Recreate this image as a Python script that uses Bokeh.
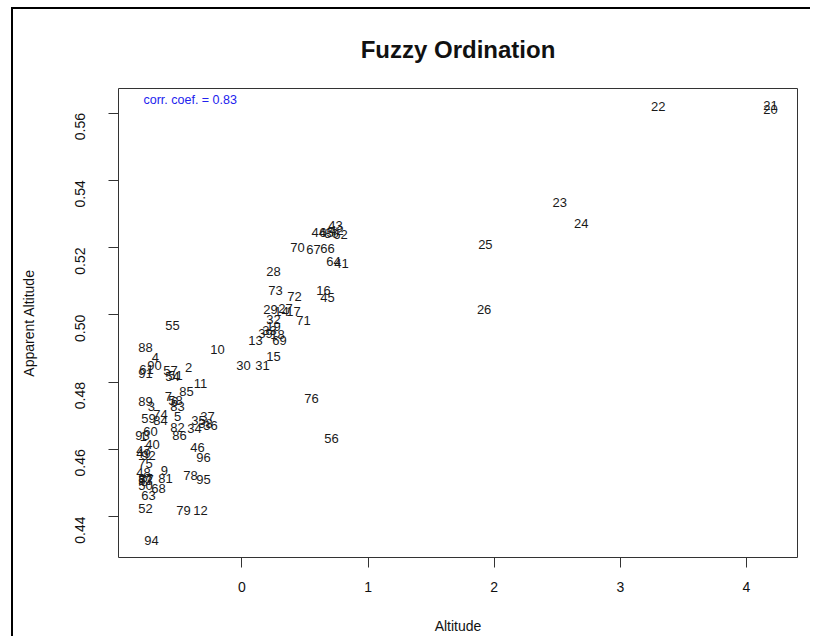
import math
from bokeh.plotting import figure
from bokeh.models import Range1d, FixedTicker, Label, ColumnDataSource
from bokeh.core.properties import value
from bokeh.embed import file_html
from bokeh.resources import INLINE

# ---- data ----
labels = ["20", "21", "22", "23", "24", "25", "26",
          "43", "44", "65", "80", "42", "62", "70", "67", "66", "64", "41",
          "28", "73", "72", "16", "45", "29", "27", "14", "17", "71", "32",
          "19", "39", "33", "18", "13", "69", "15", "30", "31",
          "55", "10", "88", "4", "90", "61", "91", "57", "54", "51", "2",
          "11", "85", "89", "3", "7", "58", "6", "83", "74", "59", "84", "5",
          "82", "86", "37", "35", "38", "36", "34", "60", "93", "1", "40",
          "46", "47", "49", "92", "96", "75", "48", "9", "81", "78", "95",
          "87", "53", "8", "77", "50", "68", "63", "52", "79", "12", "94",
          "76", "56"]
altitude = [4.19, 4.19, 3.30, 2.52, 2.69, 1.93, 1.92,
            0.741, 0.609, 0.670, 0.710, 0.749, 0.781, 0.440, 0.567, 0.678, 0.726, 0.789,
            0.250, 0.266, 0.416, 0.646, 0.678, 0.226, 0.345, 0.313, 0.408, 0.488, 0.250,
            0.250, 0.186, 0.218, 0.282, 0.107, 0.297, 0.250, 0.012, 0.163,
            -0.551, -0.194, -0.765, -0.686, -0.694, -0.757, -0.765, -0.567, -0.551, -0.527, -0.424,
            -0.329, -0.440, -0.765, -0.718, -0.583, -0.527, -0.535, -0.511, -0.646, -0.741, -0.646, -0.511,
            -0.511, -0.495, -0.274, -0.345, -0.289, -0.250, -0.377, -0.726, -0.789, -0.781, -0.710,
            -0.353, -0.781, -0.781, -0.741, -0.305, -0.765, -0.781, -0.615, -0.607, -0.408, -0.305,
            -0.765, -0.765, -0.773, -0.757, -0.765, -0.662, -0.741, -0.765, -0.464, -0.329, -0.718,
            0.551, 0.710]
apparent_altitude = [0.5611, 0.5623, 0.5620, 0.5333, 0.5271, 0.5209, 0.5017,
                     0.5265, 0.5244, 0.5244, 0.5241, 0.5250, 0.5239, 0.5200, 0.5194, 0.5197, 0.5159, 0.5153,
                     0.5129, 0.5073, 0.5055, 0.5073, 0.5052, 0.5017, 0.5020, 0.5011, 0.5011, 0.4982, 0.4987,
                     0.4964, 0.4943, 0.4952, 0.4940, 0.4922, 0.4922, 0.4875, 0.4848, 0.4848,
                     0.4969, 0.4896, 0.4902, 0.4872, 0.4848, 0.4837, 0.4825, 0.4834, 0.4816, 0.4819, 0.4842,
                     0.4795, 0.4771, 0.4742, 0.4727, 0.4757, 0.4745, 0.4742, 0.4727, 0.4704, 0.4692, 0.4686, 0.4697,
                     0.4665, 0.4641, 0.4697, 0.4686, 0.4677, 0.4671, 0.4662, 0.4652, 0.4641, 0.4638, 0.4615,
                     0.4606, 0.4597, 0.4588, 0.4580, 0.4576, 0.4559, 0.4532, 0.4538, 0.4514, 0.4523, 0.4509,
                     0.4512, 0.4506, 0.4503, 0.4509, 0.4491, 0.4482, 0.4461, 0.4423, 0.4417, 0.4417, 0.4328,
                     0.4751, 0.4633]
x_ticks = [0, 1, 2, 3, 4]
y_ticks = [0.44, 0.46, 0.48, 0.50, 0.52, 0.54, 0.56]
y_tick_labels = ["0.44", "0.46", "0.48", "0.50", "0.52", "0.54", "0.56"]
corr_text = "corr. coef. = 0.83"
title_text = "Fuzzy Ordination"
x_label = "Altitude"
y_label = "Apparent Altitude"

FONT = "Liberation Sans"

p = figure(width=810, height=636,
           x_range=Range1d(-0.979, 4.405), y_range=Range1d(0.4278, 0.5673),
           output_backend="svg", toolbar_location=None,
           min_border_left=118, min_border_right=13, min_border_top=88, min_border_bottom=76)

# the picture's thick black frame lines at left and top (drawn behind a transparent border)
p.styles = {"background-color": "white",
            "box-shadow": "inset 11px 7px 0 0 white, inset 13px 9px 0 0 black"}
p.border_fill_color = None

p.title.text = title_text
p.title.align = "center"
p.title.text_font = FONT
p.title.text_font_size = "24px"
p.title.text_font_style = "bold"
p.title.text_color = "#111111"
p.title.standoff = 52

p.grid.visible = False
p.outline_line_color = "#333333"
p.outline_line_width = 1
p.background_fill_color = "white"

for ax in (p.xaxis[0], p.yaxis[0]):
    ax.axis_line_color = None
    ax.major_tick_line_color = "#333333"
    ax.major_tick_out = 10
    ax.major_tick_in = 0
    ax.minor_tick_line_color = None
    ax.major_label_text_font = FONT
    ax.major_label_text_font_size = "14px"
    ax.major_label_text_color = "#111111"
    ax.axis_label_text_font = FONT
    ax.axis_label_text_font_size = "14px"
    ax.axis_label_text_font_style = "normal"
    ax.axis_label_text_color = "#111111"

p.xaxis[0].ticker = FixedTicker(ticks=x_ticks)
p.xaxis[0].major_label_standoff = 14
p.xaxis[0].axis_label = x_label
p.xaxis[0].axis_label_standoff = 23

p.yaxis[0].ticker = FixedTicker(ticks=y_ticks)
p.yaxis[0].major_label_overrides = {t: s for t, s in zip(y_ticks, y_tick_labels)}
p.yaxis[0].major_label_orientation = math.pi / 2
p.yaxis[0].major_label_standoff = 28
p.yaxis[0].axis_label = y_label
p.yaxis[0].axis_label_standoff = 31

src = ColumnDataSource(dict(x=altitude, y=apparent_altitude, label=labels))
p.text(x="x", y="y", text="label", source=src,
       text_align="center", text_baseline="middle",
       text_font=value(FONT), text_font_size="13px", text_color="#1a1a1a")

p.add_layout(Label(x=-0.781, y=0.5638, text=corr_text, text_align="left",
                   text_baseline="middle", text_font=FONT,
                   text_font_size="12.5px", text_color="#2222ee"))

open("out.html", "w").write(file_html(p, INLINE))
